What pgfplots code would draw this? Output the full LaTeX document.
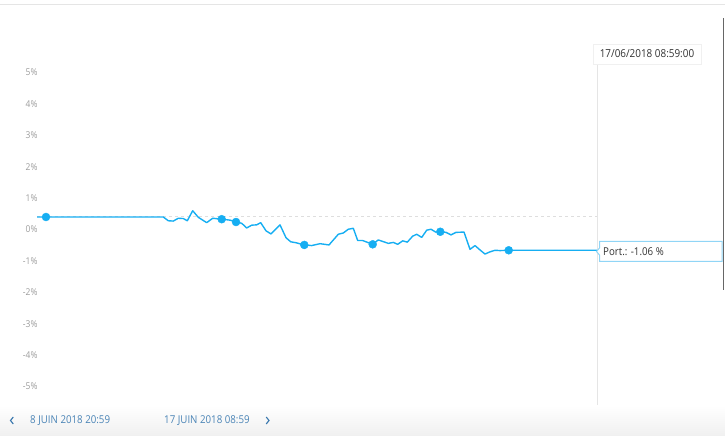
\documentclass[border=0pt]{standalone}
\usepackage{pgfplots}
\pgfplotsset{compat=1.18}
\usepackage{fontspec}
\setmainfont{Open Sans}
\newfontfamily\cond[FakeStretch=0.9]{Open Sans}
\definecolor{linec}{HTML}{16AEF2}
\definecolor{labc}{HTML}{9C9C9C}
\definecolor{navc}{HTML}{4A84B6}
\definecolor{arrc}{HTML}{3A78AE}
\definecolor{tipb}{HTML}{90D5F6}
\begin{document}
\begin{tikzpicture}
\path[use as bounding box] (0,0) rectangle (725pt,436pt);
\shade[top color=white, bottom color=black!6] (0,0) rectangle (725pt,31pt);
\begin{axis}[at={(0,0)}, anchor=south west, scale only axis,
  width=725pt, height=436pt,
  xmin=0, xmax=725, ymin=-6.975, ymax=6.911,
  axis line style={draw=none}, major tick length=0pt,
  xtick=\empty,
  ytick={-5,-4,-3,-2,-1,0,1,2,3,4,5},
  yticklabels={-5\%,-4\%,-3\%,-2\%,-1\%,0\%,1\%,2\%,3\%,4\%,5\%},
  yticklabel style={font=\cond\fontsize{9.4}{11}\selectfont, text=labc, anchor=east, inner sep=0pt, xshift=37.7pt, yshift=-12.5pt},
  clip=false]
% baseline (dashed)
\addplot[color=black!13, line width=1pt, dash pattern=on 3pt off 3pt] coordinates {(37,0.03) (597,0.03)};
% crosshair
\addplot[color=black!10, line width=0.8pt] coordinates {(597,4.87) (597,-5.99)};
% portfolio line
\addplot[color=linec, line width=1.4pt, line join=round] coordinates {
(37,0.00) (46,0.00) (163.3,0.00) (168.3,-0.12) (173.3,-0.13) (178.3,-0.04)
(183.3,-0.05) (187.3,-0.12) (192.7,0.20) (198.3,-0.01) (206.7,-0.18)
(212.7,-0.04) (221.7,-0.07) (230,-0.10) (236,-0.16) (241.7,-0.20)
(246.7,-0.35) (251.7,-0.26) (256.7,-0.25) (260.7,-0.18) (266,-0.44)
(271,-0.54) (280,-0.25) (286,-0.66) (290.7,-0.79) (296,-0.82)
(304.3,-0.89) (311.7,-0.91) (320,-0.85) (329,-0.89) (338.3,-0.55)
(343.3,-0.51) (348.3,-0.39) (353.3,-0.36) (357.7,-0.75) (362.7,-0.75)
(372.7,-0.87) (378.3,-0.73) (388.3,-0.84) (393.3,-0.81) (397.7,-0.87)
(402.7,-0.76) (407.3,-0.80) (412.7,-0.61) (416.7,-0.55) (421.7,-0.65)
(426.7,-0.42) (431,-0.39) (435.7,-0.48) (440.3,-0.47) (446,-0.49)
(451,-0.57) (456,-0.49) (464,-0.48) (470,-1.03) (475,-0.91) (480,-1.05)
(485,-1.18) (490,-1.11) (495,-1.06) (500,-1.07) (508.7,-1.06) (597,-1.06)};
% markers
\addplot[only marks, mark=*, mark size=4pt, color=linec] coordinates {
(46,0.00) (221.7,-0.07) (236,-0.16) (304.3,-0.89) (372.7,-0.87) (440.3,-0.47) (508.7,-1.06)};
\end{axis}
\begin{scope}[x=1pt, y=-1pt, shift={(0,436pt)}]
\draw[black!10, line width=1pt] (0,5) -- (725,5);
\draw[black!60, line width=0.8pt] (723.5,18) -- (723.5,290);
% top tooltip
\draw[black!6, fill=white, line width=0.8pt] (593,44) rectangle (701,64);
\node[font=\cond\fontsize{11}{13}\selectfont, text=black!80, inner sep=0pt] at (647,54) {17/06/2018 08:59:00};
% series tooltip
\draw[tipb, fill=white, line width=1pt] (596.5,251.5) -- (599.5,248) -- (599.5,241.5) -- (722,241.5) -- (722,261.5) -- (599.5,261.5) -- (599.5,255) -- cycle;
\node[font=\cond\fontsize{10.8}{13}\selectfont, text=black!80, inner sep=0pt, anchor=west] at (603,251.5) {Port.: -1.06 \%};
% navigation
\draw[arrc, line width=1.1pt] (13.3,417) -- (10.5,420.5) -- (13.3,424);
\node[font=\cond\fontsize{10.8}{13}\selectfont, text=navc, inner sep=0pt, anchor=west] at (30,420.5) {8 JUIN 2018 20:59};
\node[font=\cond\fontsize{10.8}{13}\selectfont, text=navc, inner sep=0pt, anchor=west] at (164,420.5) {17 JUIN 2018 08:59};
\draw[arrc, line width=1.1pt] (266.2,417) -- (269,420.5) -- (266.2,424);
\end{scope}
\end{tikzpicture}
\end{document}
